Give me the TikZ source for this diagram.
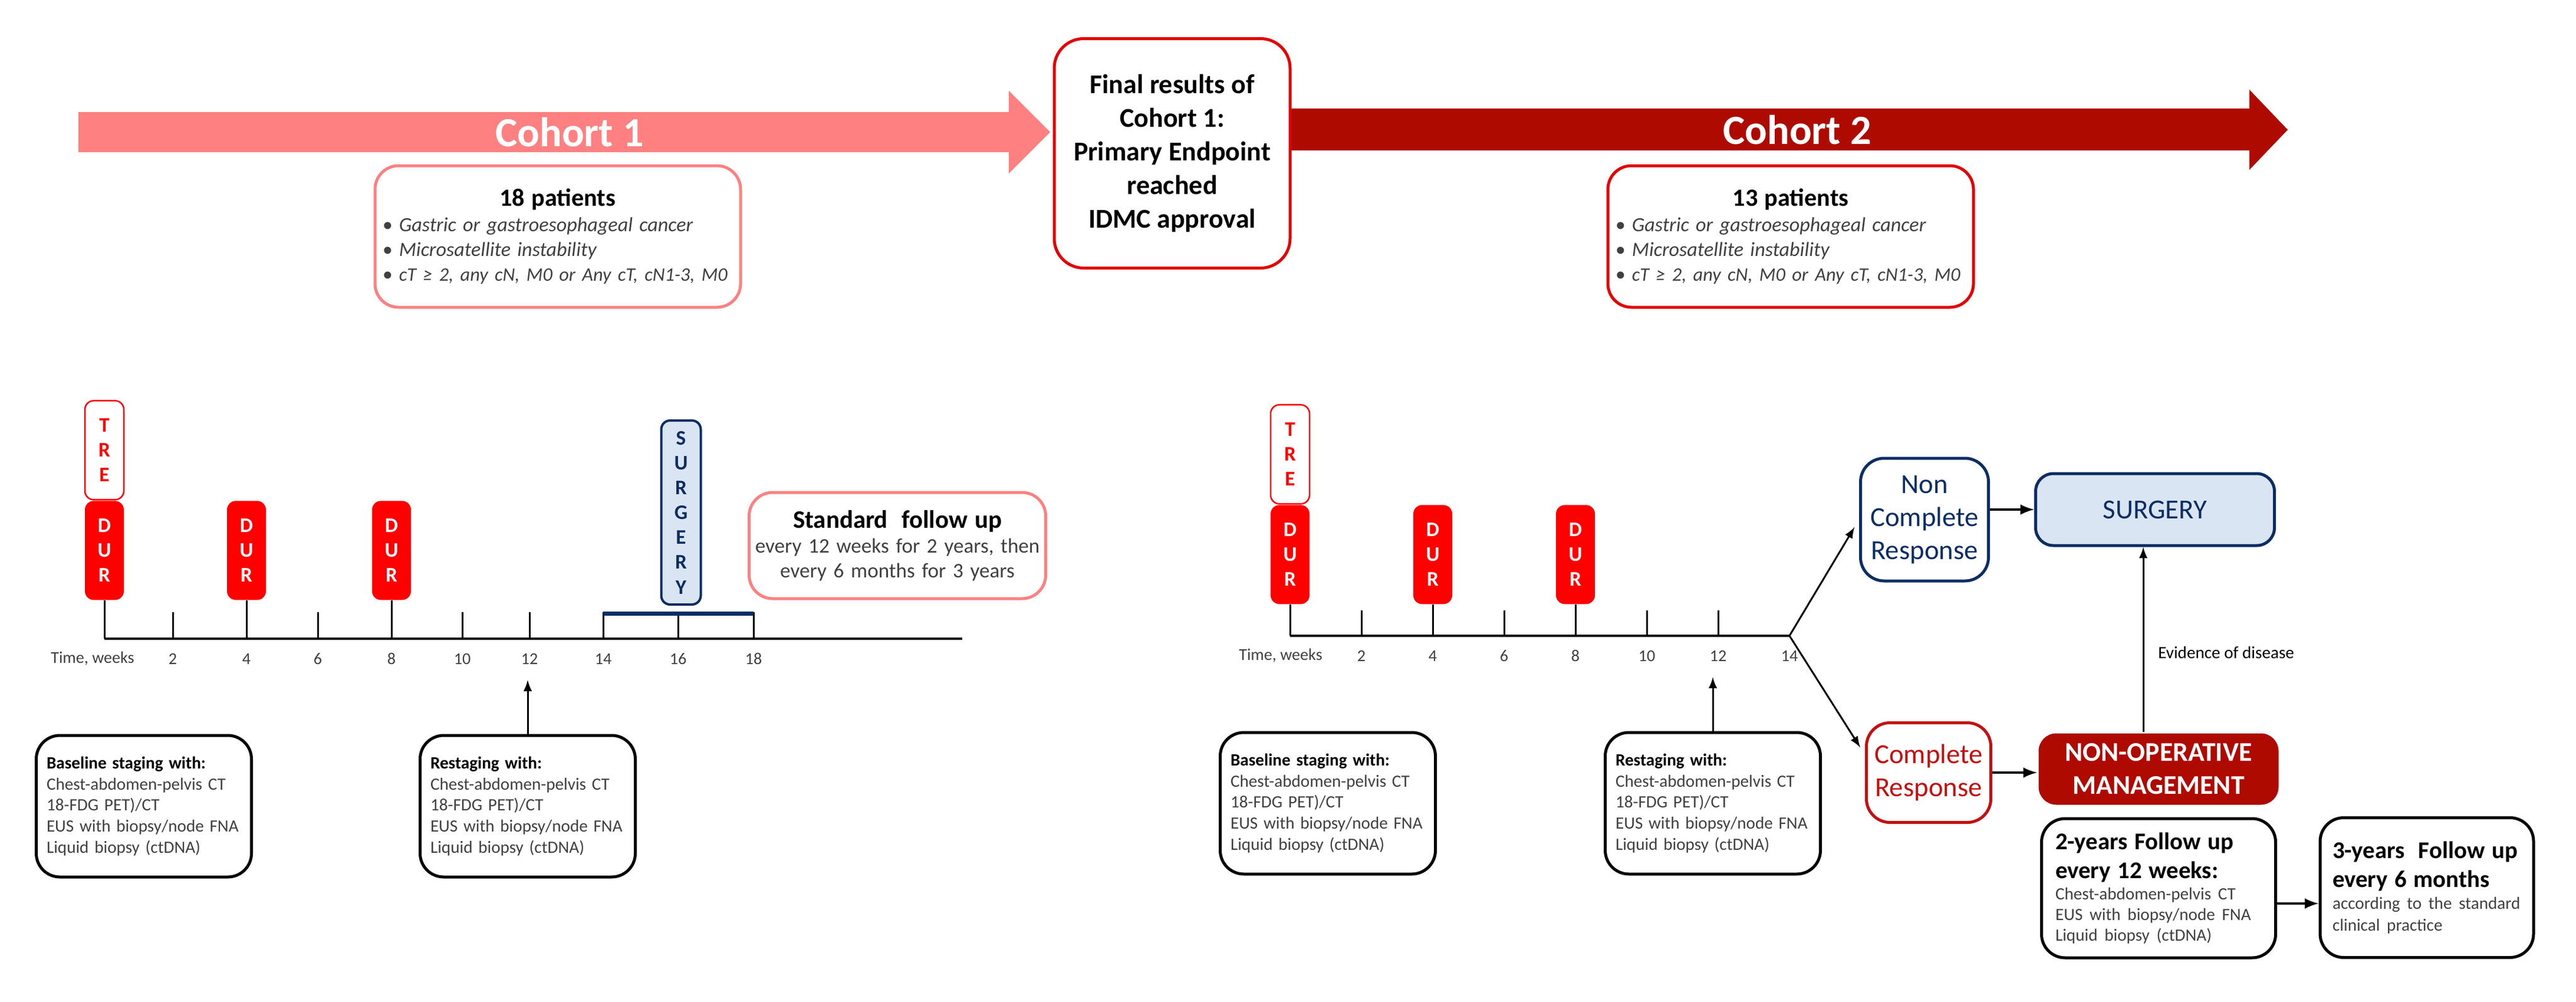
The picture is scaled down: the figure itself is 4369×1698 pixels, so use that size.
\documentclass[tikz,border=0pt]{standalone}
\usepackage{fontspec}
\setmainfont{Carlito}
\usetikzlibrary{positioning}
\definecolor{cohortA}{RGB}{255,128,128}
\definecolor{cohortB}{RGB}{174,10,0}
\definecolor{boxred}{RGB}{228,0,0}
\definecolor{durred}{RGB}{255,0,0}
\definecolor{navy}{RGB}{12,45,100}
\definecolor{paleblue}{RGB}{218,229,243}
\definecolor{crred}{RGB}{196,16,16}
\definecolor{txtgray}{RGB}{64,64,64}
\newcommand{\critlist}[1]{{\centering\color{black}\fontsize{12}{14}\selectfont\bfseries #1 patients\par}
  \raggedright\itshape\textbullet\ Gastric or gastroesophageal cancer\\
  \textbullet\ Microsatellite instability\\
  \textbullet\ {\fontsize{9.2}{12}\selectfont cT ≥ 2, any cN, M0 or Any cT, cN1-3, M0}}
\newcommand{\staging}[1]{\textcolor{black}{\bfseries #1}\\Chest-abdomen-pelvis CT\\18-FDG PET)/CT\\EUS with biopsy/node FNA\\Liquid biopsy (ctDNA)}
\tikzset{
  rbox/.style={draw,rounded corners=4mm,line width=0.5mm,inner sep=0pt,align=center},
  pbox/.style={draw=#1,rounded corners=4mm,line width=0.5mm,inner sep=0pt,minimum width=62mm,minimum height=24mm,text width=59.5mm,text=txtgray,font=\fontsize{9.7}{12}\selectfont},
  durbox/.style={fill=durred,text=white,rounded corners=1.5mm,inner sep=0pt,minimum width=6.6mm,minimum height=16.8mm,align=center,font=\fontsize{10}{12}\selectfont\bfseries},
  trebox/.style={durbox,fill=white,draw=durred,text=durred,line width=0.25mm},
  vsurg/.style={durbox,fill=paleblue,draw=navy,text=navy,line width=0.4mm,minimum width=6.7mm,minimum height=31.2mm},
  stagebox/.style={rbox,draw=black,minimum width=36.5mm,minimum height=24mm,text width=33mm,align=left,text=txtgray,font=\fontsize{8.3}{10.2}\selectfont},
  tick/.style={line width=0.3mm},
  wk/.style={font=\fontsize{8}{10}\selectfont,text=txtgray},
  cohort/.style={text=white,font=\fontsize{20}{24}\selectfont\bfseries},
  resp/.style={rbox,font=\fontsize{13.3}{16}\selectfont}
}
\begin{document}
\begin{tikzpicture}[x=0.1mm,y={(0,-0.1mm)},>=latex]
\useasboundingbox (0,0) rectangle (4369,1698);
\fill[cohortA] (133,190)--(1711,190)--(1711,154)--(1781,224)--(1711,294)--(1711,258)--(133,258)--cycle;
\fill[cohortB] (2187,184)--(3815,184)--(3815,152)--(3880,220)--(3815,288)--(3815,255)--(2187,255)--cycle;
\node[cohort] (coh1) at (966,224) {Cohort 1};
\node[cohort] (coh2) at (3048,220) {Cohort 2};
\node[rbox,draw=boxred,rounded corners=5mm,minimum width=40mm,minimum height=38.9mm,font=\fontsize{13.1}{16.2}\selectfont\bfseries] (final) at (1988,260) {Final results of\\Cohort 1:\\Primary Endpoint\\reached\\IDMC approval};
\node[pbox=cohortA] (pat1) at (946,401) {\critlist{18}};
\node[pbox=boxred] (pat2) at (3037,401) {\critlist{13}};

\draw[line width=0.35mm] (177,1083) coordinate (o1) -- (1632,1083) coordinate (e1);
\foreach \x/\w in {293/2,418/4,539/6,664/8,784/10,898/12,1023/14,1150/16,1278/18}
  \draw[tick] (\x,1083)--(\x,1038) (\x,1117) node[wk] (a\w) {\w};
\node[wk] (tw1) at (157,1117) {Time, weeks};
\foreach \x/\w in {177/0,418/4,664/8} {
  \node[durbox,anchor=south] (dA\w) at (\x,1018) {D\\U\\R};
  \draw[tick] (dA\w.south)--(dA\w.south |- o1);
}
\node[trebox,above=0pt of dA0] (tA) {T\\R\\E};
\draw[navy,line width=0.7mm] (a14 |- 0,1040)--(a18 |- 0,1040);
\node[vsurg,anchor=south] (surA) at (1155,1027) {S\\U\\R\\G\\E\\R\\Y};
\node[rbox,draw=cohortA,minimum width=50.3mm,minimum height=18mm,text width=50mm,text=txtgray,font=\fontsize{10}{12}\selectfont] (stdA) at (1522,925) {{\color{black}\fontsize{12.2}{14}\selectfont\bfseries Standard\ \ follow up\par}every 12 weeks for 2 years, then\\every 6 months for 3 years};
\node[stagebox] (baseA) at (244,1367) {\staging{Baseline staging with:}};
\node[stagebox] (restA) at (895,1367) {\staging{Restaging with:}};
\coordinate (upA) at (895,1153);
\draw[->,tick] (restA)--(upA);

\draw[line width=0.35mm] (2188,1078) coordinate (o2) -- (3035,1078) coordinate (e2);
\foreach \w in {2,4,...,12}
  \draw[tick,xshift=\w*6.05mm] (2188,1078)--(2188,1035);
\foreach \w in {2,4,...,14}
  \node[wk] (b\w) at (2188+60.5*\w,1112) {\w};
\node[wk] (tw2) at (2172,1112) {Time, weeks};
\foreach \w in {0,4,8} {
  \node[durbox,anchor=south] (dB\w) at (2188+60.5*\w,1025) {D\\U\\R};
  \draw[tick] (dB\w.south)--(dB\w.south |- o2);
}
\node[trebox,above=0pt of dB0] (tB) {T\\R\\E};
\node[stagebox] (baseB) at (2252,1362) {\staging{Baseline staging with:}};
\node[stagebox] (restB) at (2905,1362) {\staging{Restaging with:}};
\coordinate (upB) at (2905,1148);
\draw[->,tick] (restB)--(upB);

\node[resp,draw=navy,text=navy,minimum width=21.7mm,minimum height=20.8mm] (ncr) at (3264,881) {Non\\Complete\\Response};
\node[resp,draw=navy,fill=paleblue,text=navy,rounded corners=3mm,minimum width=40.5mm,minimum height=12.2mm] (surB) at (3655,864) {SURGERY};
\node[resp,draw=crred,text=crred,minimum width=21.1mm,minimum height=16.9mm] (cr) at (3271,1310) {Complete\\Response};
\node[resp,draw=none,fill=cohortB,text=white,rounded corners=3mm,minimum width=40.7mm,minimum height=12.1mm,font=\fontsize{13}{16}\selectfont\bfseries] (nom) at (3661,1304) {NON-OPERATIVE\\MANAGEMENT};
\node[rbox,draw=black,minimum width=39.7mm,minimum height=23.6mm,text width=35mm,align=left] (fu2) at (3661,1506) {{\fontsize{11.6}{14}\selectfont\bfseries 2-years Follow up\\every 12 weeks:\par}{\color{txtgray}\fontsize{8.3}{10}\selectfont Chest-abdomen-pelvis CT\\EUS with biopsy/node FNA\\Liquid biopsy (ctDNA)\par}};
\node[rbox,draw=black,minimum width=36.2mm,minimum height=23.7mm,text width=32mm,align=left] (fu3) at (4116,1505) {{\fontsize{11.6}{14}\selectfont\bfseries 3-years\ \ Follow up\\every 6 months\par}{\color{txtgray}\fontsize{8.3}{10.5}\selectfont according to the standard\\clinical practice\par}};
\draw[->,tick,shorten >=1.5mm] (e2)--(ncr.west);
\draw[->,tick,shorten >=1.5mm] (e2)--([yshift=3mm]cr.west);
\draw[->,line width=0.45mm] (ncr.east |- surB.west)--(surB.west);
\draw[->,line width=0.45mm] (cr.east)--(cr.east -| nom.west);
\draw[->,tick] ([xshift=-2.6mm]nom.north)--([xshift=-2.6mm]nom.north |- surB.south) node[pos=0.43,right=1.2mm,font=\fontsize{8.3}{10}\selectfont] (evid) {Evidence of disease};
\draw[->,line width=0.45mm] ([yshift=-2.6mm]fu2.east)--([yshift=-2.6mm]fu2.east -| fu3.west);
\end{tikzpicture}
\end{document}
